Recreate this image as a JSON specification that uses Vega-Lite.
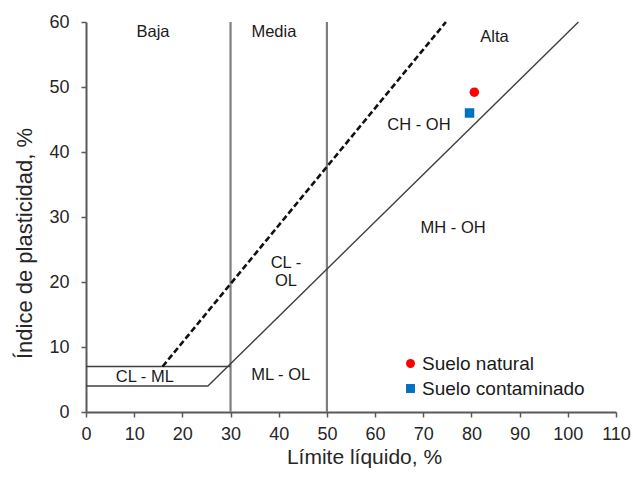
{
  "$schema": "https://vega.github.io/schema/vega-lite/v6.json",
  "width": 530,
  "height": 390,
  "autosize": {"type": "none"},
  "padding": {"left": 86, "top": 22, "right": 17, "bottom": 65},
  "background": "white",
  "config": {
    "view": {"stroke": null},
    "font": "Liberation Sans",
    "axis": {
      "grid": false,
      "domainColor": "#595959",
      "tickColor": "#595959",
      "domainWidth": 2,
      "tickWidth": 1.5,
      "tickSize": 5,
      "labelFont": "Liberation Sans",
      "titleFont": "Liberation Sans",
      "labelFontSize": 18,
      "titleFontSize": 21,
      "labelColor": "#262626",
      "titleColor": "#262626",
      "titleFontWeight": "normal"
    }
  },
  "layer": [
    {
      "data": {"values": [{"ll": 30, "pi0": 0, "pi1": 60}, {"ll": 50, "pi0": 0, "pi1": 60}]},
      "mark": {"type": "rule", "color": "#7f7f7f", "strokeWidth": 2.2},
      "encoding": {
        "x": {"field": "ll", "type": "quantitative", "scale": {"domain": [0, 110]},
              "axis": {"values": [0,10,20,30,40,50,60,70,80,90,100,110], "title": "Límite líquido, %", "titlePadding": 3, "titleX": 278, "labelPadding": 8, "labelFlush": false, "labelOverlap": false}},
        "y": {"field": "pi0", "type": "quantitative", "scale": {"domain": [0, 60]},
              "axis": {"values": [0,10,20,30,40,50,60], "title": "Índice de plasticidad, %", "titleFontSize": 22, "titleY": 221, "titlePadding": 12, "labelPadding": 12}},
        "y2": {"field": "pi1"}
      }
    },
    {
      "data": {"values": [{"ll": 0, "pi": 4}, {"ll": 25.3, "pi": 4}, {"ll": 102.2, "pi": 60}]},
      "mark": {"type": "line", "color": "#404040", "strokeWidth": 1.4},
      "encoding": {
        "x": {"field": "ll", "type": "quantitative"},
        "y": {"field": "pi", "type": "quantitative"}
      }
    },
    {
      "data": {"values": [{"ll": 0, "pi": 7}, {"ll": 30, "pi": 7}]},
      "mark": {"type": "line", "color": "#404040", "strokeWidth": 1.4},
      "encoding": {
        "x": {"field": "ll", "type": "quantitative"},
        "y": {"field": "pi", "type": "quantitative"}
      }
    },
    {
      "data": {"values": [{"ll": 15.9, "pi": 7}, {"ll": 74.7, "pi": 60}]},
      "mark": {"type": "line", "color": "#111111", "strokeWidth": 2.6, "strokeDash": [6, 3]},
      "encoding": {
        "x": {"field": "ll", "type": "quantitative"},
        "y": {"field": "pi", "type": "quantitative"}
      }
    },
    {
      "data": {"values": [
        {"ll": 13.9, "pi": 58.5, "label": "Baja"},
        {"ll": 39.0, "pi": 58.5, "label": "Media"},
        {"ll": 84.8, "pi": 57.7, "label": "Alta"},
        {"ll": 69.1, "pi": 44.2, "label": "CH - OH"},
        {"ll": 41.5, "pi": 22.9, "label": "CL -"},
        {"ll": 41.5, "pi": 20.2, "label": "OL"},
        {"ll": 76.2, "pi": 28.3, "label": "MH - OH"},
        {"ll": 40.4, "pi": 5.7, "label": "ML - OL"},
        {"ll": 12.2, "pi": 5.4, "label": "CL - ML"}
      ]},
      "mark": {"type": "text", "font": "Liberation Sans", "fontSize": 16.5, "color": "#1a1a1a", "align": "center", "baseline": "middle"},
      "encoding": {
        "x": {"field": "ll", "type": "quantitative"},
        "y": {"field": "pi", "type": "quantitative"},
        "text": {"field": "label"}
      }
    },
    {
      "data": {"values": [
        {"ll": 80.6, "pi": 49.2, "muestra": "Suelo natural"},
        {"ll": 79.6, "pi": 46.0, "muestra": "Suelo contaminado"}
      ]},
      "mark": {"type": "point", "filled": true, "opacity": 1, "size": 90},
      "encoding": {
        "x": {"field": "ll", "type": "quantitative"},
        "y": {"field": "pi", "type": "quantitative"},
        "color": {"field": "muestra", "type": "nominal",
                  "scale": {"domain": ["Suelo natural", "Suelo contaminado"], "range": ["#ff0000", "#0070c0"]},
                  "legend": {"orient": "none", "legendX": 315, "legendY": 332, "title": null, "padding": 0,
                             "labelFont": "Liberation Sans", "labelFontSize": 19, "labelColor": "#1a1a1a", "labelLimit": 400,
                             "symbolSize": 80, "rowPadding": 5, "labelOffset": 2}},
        "shape": {"field": "muestra", "type": "nominal",
                  "scale": {"domain": ["Suelo natural", "Suelo contaminado"], "range": ["circle", "square"]}}
      }
    }
  ]
}
